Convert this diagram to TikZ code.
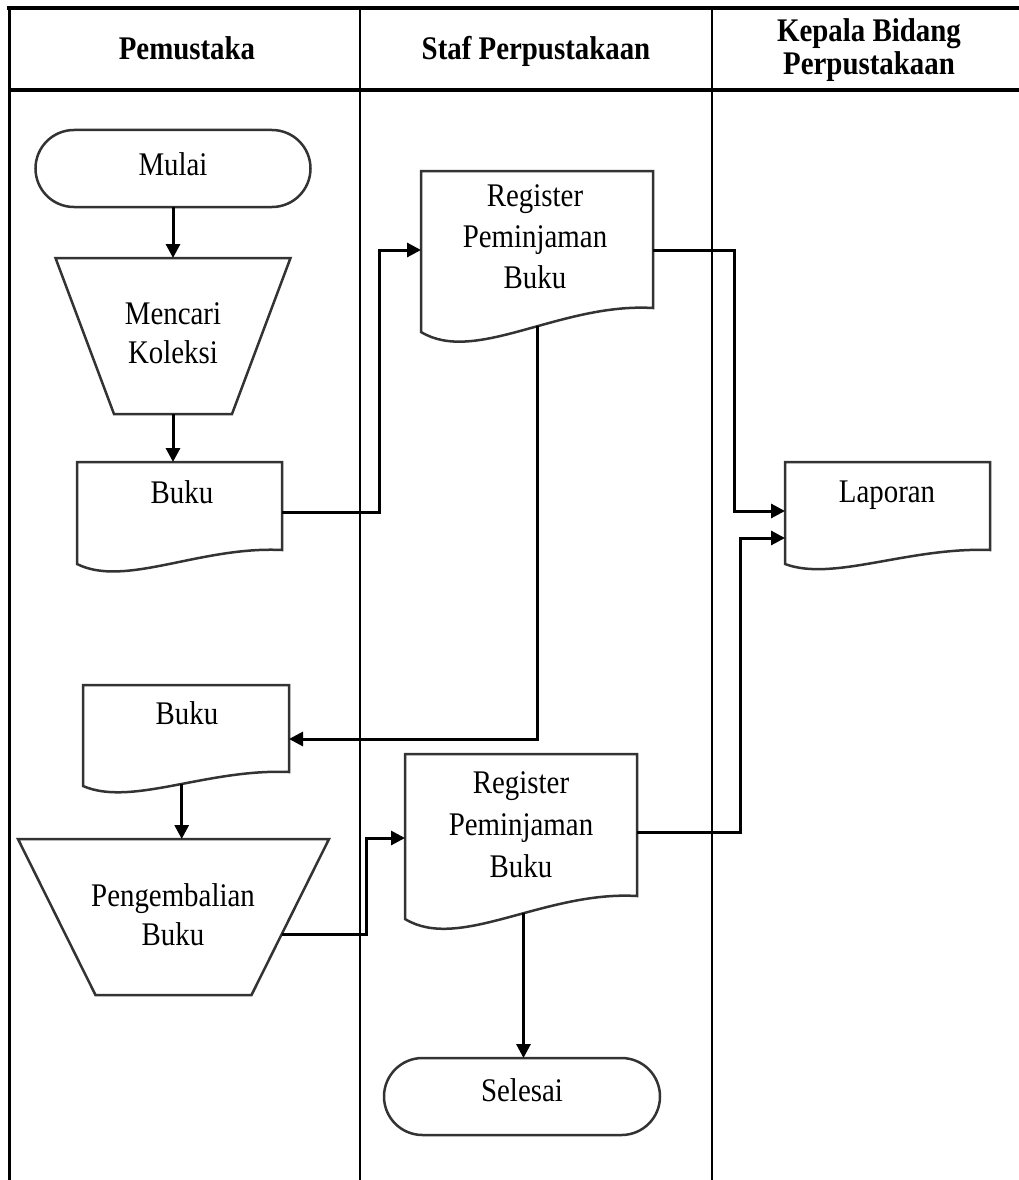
\documentclass[tikz,border=0pt]{standalone}
\usepackage{fontspec}
\setmainfont{Liberation Serif}[FakeStretch=0.875]
\usetikzlibrary{calc,shapes.misc,arrows.meta}

% centred multi-line text whose baseline is the first line
\newcommand\txtlines[1]{\begin{tabular}[t]{@{}c@{}}#1\end{tabular}}

% document symbol: #1 node, #2 extra drop of the left edge, #3 wave depth, #4 position of the named wave point
\newcommand\docoutline[4]{%
  \draw[shapeline] (#1.north west) -- (#1.north east) -- (#1.south east)
    .. controls ($(#1.south east)!0.4!(#1.south west)+(0,{-0.5*#3})$)
            and ($(#1.south west)!0.234!(#1.south east)+(0,{#2+3*#3})$)
    .. ($(#1.south west)+(0,#2)$) coordinate[pos=#4] (#1-w) -- cycle;}

% manual operation symbol (wide side on top): #1 node, #2 inset of the bottom corners
\newcommand\trapoutline[2]{%
  \draw[shapeline] (#1.north west) -- (#1.north east)
    -- ($(#1.south east)+(-#2,0)$) coordinate[pos=0.61] (#1-r)
    -- ($(#1.south west)+(#2,0)$) -- cycle;}

\tikzset{
  shapeline/.style={draw=black!80, line width=2.5pt},
  conn/.style={line width=3pt, -{Triangle[length=14pt,width=14pt]}},
  box/.style={inner sep=0pt, outer sep=0pt},
  termbox/.style={rounded rectangle, shapeline, inner sep=0pt, outer sep=0pt,
    minimum height=77pt},
  txt/.style={anchor=base, inner sep=0pt, font=\fontsize{33}{41}\selectfont},
  txtnarrow/.style={txt, font=\fontsize{33}{39}\selectfont},
  head/.style={anchor=base, inner sep=0pt, font=\fontsize{33}{33}\selectfont\bfseries},
}

\begin{document}
\begin{tikzpicture}[x=1pt, y=-1pt]
\useasboundingbox (0,0) rectangle (1019,1180);

% swimlane frame
\draw[line width=4pt] (7,8) -- (1019,8);
\draw[line width=3.5pt] (9,90) -- (1019,90);
\draw[line width=3pt] (9,6) -- (9,1180);
\draw[line width=2.5pt] (360,8) -- (360,1180);
\draw[line width=2.5pt] (712,8) -- (712,1180);

% lane headings
\node[head] (h1) at (187,60) {Pemustaka};
\node[head] (h2) at (536,60) {Staf Perpustakaan};
\node[head] (h3) at (869,42) {\txtlines{Kepala Bidang\\Perpustakaan}};

% Pemustaka lane
\node[termbox, minimum width=275pt] (mulai) at (173,168.5) {};
\node[txt] (mulai-t) at (173,175) {Mulai};

\node[box, minimum width=235pt, minimum height=156pt] (mencari) at (173,336) {};
\trapoutline{mencari}{58.5}
\node[txtnarrow] (mencari-t) at (173,324) {\txtlines{Mencari\\Koleksi}};

\node[box, minimum width=205pt, minimum height=88pt] (buku1) at (179.5,506) {};
\docoutline{buku1}{14}{8}{0.5}
\node[txt] (buku1-t) at (182,503) {Buku};

\node[box, minimum width=206pt, minimum height=87pt] (buku2) at (186,728.5) {};
\docoutline{buku2}{14}{7}{0.46}
\node[txt] (buku2-t) at (187,724) {Buku};

\node[box, minimum width=311pt, minimum height=156pt] (penge) at (173.5,917) {};
\trapoutline{penge}{77.5}
\node[txtnarrow] (penge-t) at (173,906) {\txtlines{Pengembalian\\Buku}};

% Staf Perpustakaan lane
\node[box, minimum width=232pt, minimum height=137pt] (reg1) at (537,239.5) {};
\docoutline{reg1}{24}{11}{0.44}
\node[txt] (reg1-t) at (535,206) {\txtlines{Register\\Peminjaman\\Buku}};

\node[box, minimum width=232pt, minimum height=142pt] (reg2) at (521,825) {};
\docoutline{reg2}{23}{11}{0.43}
\node[txt, font=\fontsize{33}{42}\selectfont] (reg2-t) at (521,793) {\txtlines{Register\\Peminjaman\\Buku}};

\node[termbox, minimum width=276pt] (selesai) at (522,1096.5) {};
\node[txt] (selesai-t) at (522,1101) {Selesai};

% Kepala Bidang lane
\node[box, minimum width=205pt, minimum height=88pt] (laporan) at (887.5,506) {};
\docoutline{laporan}{14}{6}{0.5}
\node[txt] (laporan-t) at (887,502) {Laporan};

% flow
\draw[conn] (mulai.south) -- (mencari.north);
\draw[conn] (mencari.south) -- (mencari.south |- buku1.north);
\draw[conn] ([yshift=-6pt]buku1.east) -- ++(97,0) |- ([yshift=-10.5pt]reg1.west);
\draw[conn] ([yshift=-10.5pt]reg1.east) -- ++(81,0) |- ([yshift=-5pt]laporan.west);
\draw[conn] (reg1-w) |- ([yshift=-10.5pt]buku2.east);
\draw[conn] (buku2-w) -- (buku2-w |- penge.north);
\draw[conn] (penge-r) -- ++(85,0) |- ([yshift=-13pt]reg2.west);
\draw[conn] ([yshift=-7pt]reg2.east) -- ++(103,0) |- ([yshift=-32pt]laporan.west);
\draw[conn] (reg2-w) -- (reg2-w |- selesai.north);
\end{tikzpicture}
\end{document}
